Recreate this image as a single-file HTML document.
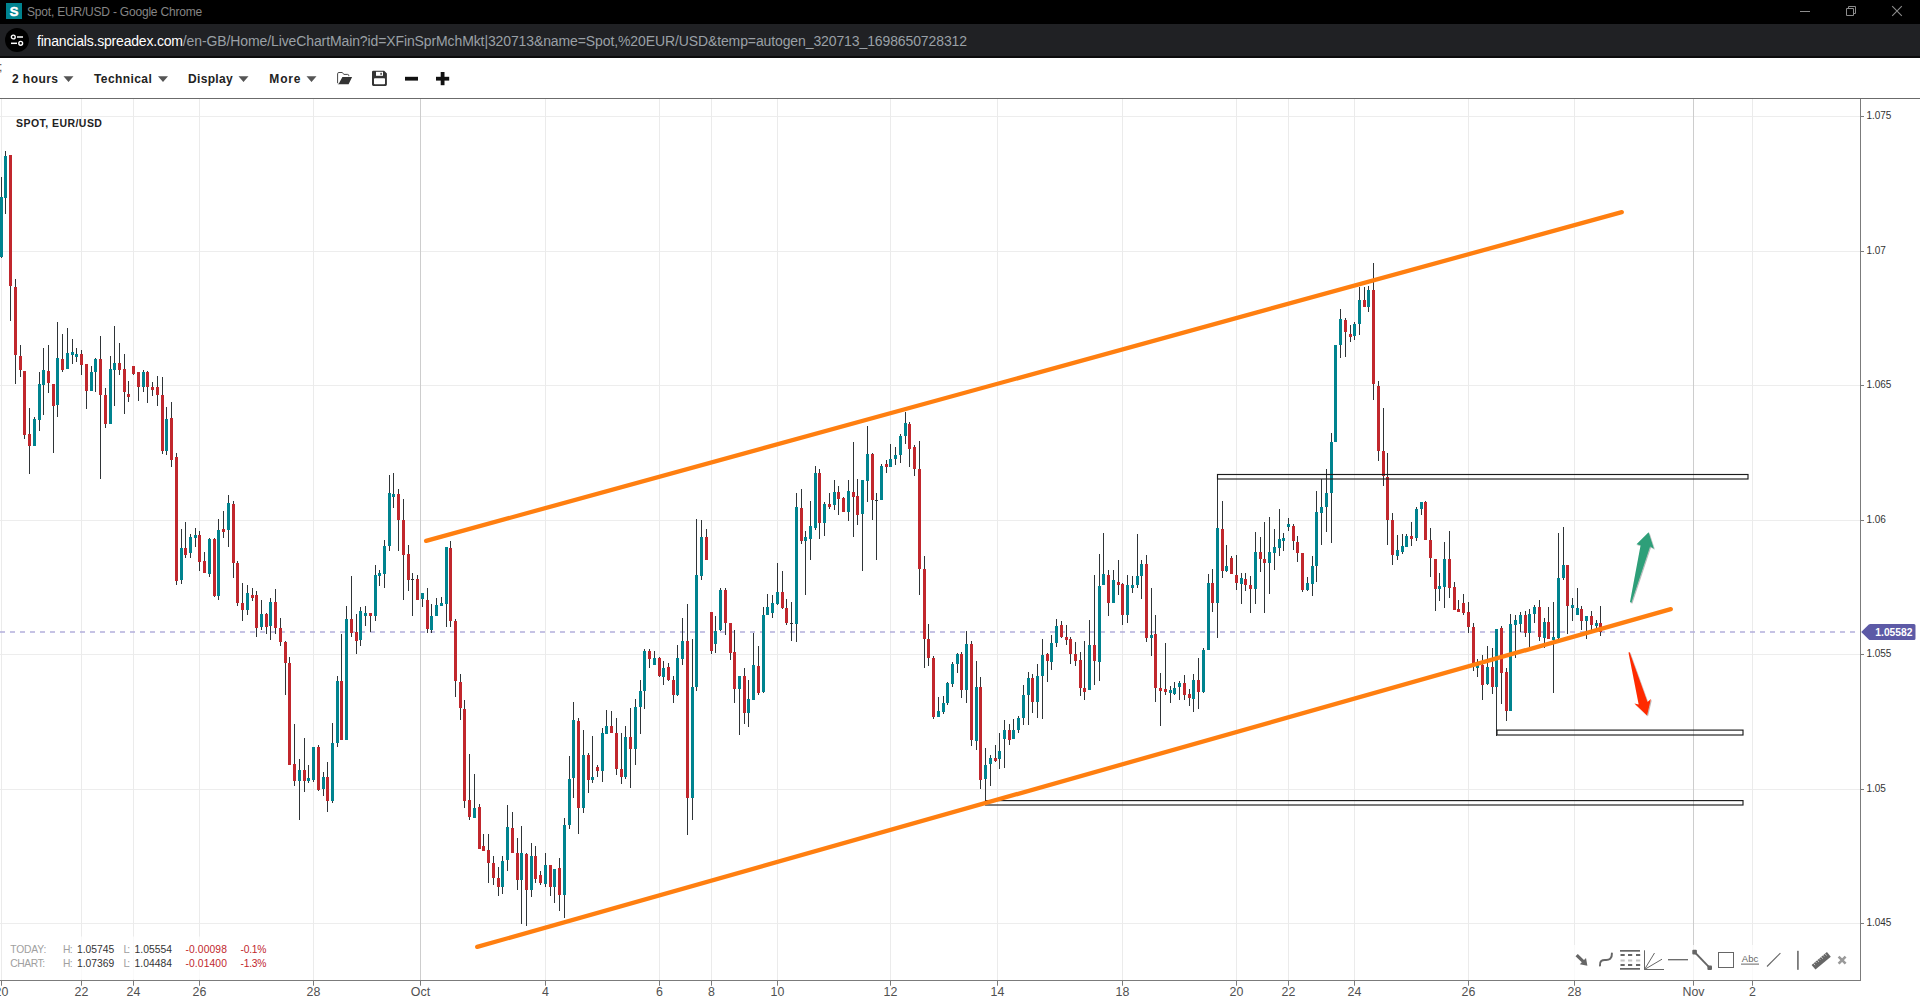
<!DOCTYPE html>
<html lang="en"><head><meta charset="utf-8"><title>Spot, EUR/USD</title>
<style>
html,body{margin:0;padding:0;}
body{width:1920px;height:1003px;overflow:hidden;background:#fff;position:relative;font-family:"Liberation Sans",sans-serif;}
.titlebar{position:absolute;left:0;top:0;width:1920px;height:24px;background:#000;}
.fav{position:absolute;left:6px;top:3px;width:16px;height:16px;background:#00838f;color:#fff;font-weight:bold;font-size:13px;line-height:17.6px;height:16px;overflow:hidden;text-align:center;-webkit-text-stroke:0.55px #fff;}
.ttl{position:absolute;left:27px;top:4.6px;font-size:12px;line-height:15px;color:#858585;white-space:nowrap;letter-spacing:-0.2px;}
.wc{position:absolute;top:0;left:0;}
.urlbar{position:absolute;left:0;top:24px;width:1920px;height:34px;background:#202124;box-sizing:border-box;border-bottom:2px solid #0b0b0c;}
.circ{position:absolute;left:5px;top:4px;width:24px;height:24px;border-radius:12px;background:#000;}
.url{position:absolute;left:37px;top:7.7px;font-size:14px;line-height:18px;color:#9aa0a6;white-space:nowrap;letter-spacing:-0.11px;}
.url b{font-weight:normal;color:#fff;letter-spacing:-0.19px;}
.tb{position:absolute;left:0;top:58px;width:1920px;height:40px;background:#fff;border-bottom:1px solid #6b6b6b;}
.tb span{position:absolute;top:13.5px;font-size:12px;line-height:15px;font-weight:bold;color:#222;white-space:nowrap;letter-spacing:0.55px;}
.chart{position:absolute;left:0;top:0;}
</style></head><body>
<div class="titlebar"><div class="fav">S</div><div class="ttl">Spot, EUR/USD - Google Chrome</div>
<svg class="wc" width="1920" height="24"><path d="M1800 11.5H1810" stroke="#8c8c8c" stroke-width="1"/><path d="M1846.5 8.5h7v7h-7z M1848.5 8.5v-2h7v7h-2" fill="none" stroke="#8c8c8c" stroke-width="1"/><path d="M1892.2 6.2l9.6 9.6M1901.8 6.2l-9.6 9.6" stroke="#8c8c8c" stroke-width="1.1"/></svg>
</div>
<div class="urlbar"><div class="circ"><svg width="24" height="24" viewBox="0 0 24 24"><circle cx="8.3" cy="9" r="1.9" fill="none" stroke="#fff" stroke-width="1.4"/><path d="M12 9H18" stroke="#fff" stroke-width="1.5"/><circle cx="15.7" cy="15.3" r="1.9" fill="none" stroke="#fff" stroke-width="1.4"/><path d="M6 15.3H12" stroke="#fff" stroke-width="1.5"/></svg></div>
<div class="url"><b>financials.spreadex.com</b>/en-GB/Home/LiveChartMain?id=XFinSprMchMkt|320713&amp;name=Spot,%20EUR/USD&amp;temp=autogen_320713_1698650728312</div></div>
<div class="tb">
<span style="left:-0.9px;top:2.2px;font-weight:normal;color:#444">;</span><span style="left:12px;letter-spacing:0.43px">2 hours</span><span style="left:94px;letter-spacing:0.41px">Technical</span><span style="left:188px;letter-spacing:0.34px">Display</span><span style="left:269.3px;letter-spacing:0.85px">More</span>
<svg style="position:absolute;left:0;top:0" width="480" height="40">
<path d="M63.5 18.3h10l-5 5.6zM158 18.3h10l-5 5.6zM238.5 18.3h10l-5 5.6zM306.5 18.3h10l-5 5.6z" fill="#555"/>
<path d="M337.6 25.2V15.8a1.3 1.3 0 0 1 1.3-1.3h3.2l1.9 1.9h3.5a1.3 1.3 0 0 1 1.3 1.3v0.5" fill="none" stroke="#3c3c3c" stroke-width="0.95"/><path d="M342.4 19.1h9.7l-3.5 7.1h-10.9l1.3-1z" fill="#333"/>
<path d="M373.3 12.7h10.9l2.7 2.7v11.2a1.3 1.3 0 0 1-1.3 1.3h-12.3a1.3 1.3 0 0 1-1.3-1.3v-12.6a1.3 1.3 0 0 1 1.3-1.3z" fill="#333"/><rect x="376" y="13.8" width="7" height="4" fill="#fff"/><rect x="380.4" y="14.8" width="1.4" height="2" fill="#333"/><rect x="374" y="20.2" width="11" height="6" rx="0.8" fill="#fff"/>
<rect x="405" y="18.8" width="13" height="3.8" fill="#111"/>
<rect x="436" y="18.8" width="13.2" height="3.8" fill="#111"/><rect x="440.7" y="14" width="3.8" height="13.2" fill="#111"/>
</svg></div>
<svg class="chart" width="1920" height="1003" viewBox="0 0 1920 1003"><g><rect x="0" y="116" width="1860" height="1" fill="#ededed"/><rect x="0" y="251" width="1860" height="1" fill="#ededed"/><rect x="0" y="385" width="1860" height="1" fill="#ededed"/><rect x="0" y="520" width="1860" height="1" fill="#ededed"/><rect x="0" y="654" width="1860" height="1" fill="#ededed"/><rect x="0" y="789" width="1860" height="1" fill="#ededed"/><rect x="0" y="923" width="1860" height="1" fill="#ededed"/><rect x="1" y="99" width="1" height="881" fill="#ebebeb"/><rect x="81" y="99" width="1" height="881" fill="#ebebeb"/><rect x="133" y="99" width="1" height="881" fill="#ebebeb"/><rect x="199" y="99" width="1" height="881" fill="#ebebeb"/><rect x="313" y="99" width="1" height="881" fill="#ebebeb"/><rect x="420" y="99" width="1" height="881" fill="#cdcdcd"/><rect x="545" y="99" width="1" height="881" fill="#ebebeb"/><rect x="659" y="99" width="1" height="881" fill="#ebebeb"/><rect x="711" y="99" width="1" height="881" fill="#ebebeb"/><rect x="777" y="99" width="1" height="881" fill="#ebebeb"/><rect x="890" y="99" width="1" height="881" fill="#ebebeb"/><rect x="997" y="99" width="1" height="881" fill="#ebebeb"/><rect x="1122" y="99" width="1" height="881" fill="#ebebeb"/><rect x="1236" y="99" width="1" height="881" fill="#ebebeb"/><rect x="1288" y="99" width="1" height="881" fill="#ebebeb"/><rect x="1354" y="99" width="1" height="881" fill="#ebebeb"/><rect x="1468" y="99" width="1" height="881" fill="#ebebeb"/><rect x="1574" y="99" width="1" height="881" fill="#ebebeb"/><rect x="1693" y="99" width="1" height="881" fill="#cdcdcd"/><rect x="1752" y="99" width="1" height="881" fill="#ebebeb"/></g>
<line x1="0" y1="632" x2="1860" y2="632" stroke="#b3aedb" stroke-width="1.4" stroke-dasharray="5 5"/>
<path d="M1.5 177V258M5.5 151V214M10.5 155V321M15.5 279V384M20.5 345V377M24.5 371V439M29.5 408V474M34.5 417V446M39.5 372V431M43.5 348V415M48.5 345V393M53.5 384V453M57.5 322V417M62.5 334V372M67.5 328V369M72.5 339V364M76.5 348V362M81.5 350V375M86.5 364V409M91.5 366V391M95.5 358V392M100.5 336V479M105.5 388V428M110.5 356V424M114.5 326V406M119.5 343V375M124.5 354V414M128.5 381V402M133.5 366V375M138.5 372V401M143.5 370V392M147.5 371V403M152.5 382V396M157.5 376V406M162.5 377V454M166.5 407V455M171.5 402V467M176.5 453V585M181.5 529V584M185.5 522V558M190.5 534V558M195.5 528V547M199.5 531V571M204.5 552V573M209.5 538V577M214.5 538V597M218.5 519V600M223.5 511V538M228.5 495V547M233.5 501V578M237.5 561V606M242.5 583V621M247.5 585V615M252.5 588V601M256.5 591V637M261.5 600V630M266.5 613V634M270.5 598V640M275.5 589V634M280.5 618V646M285.5 641V695M289.5 657V765M294.5 724V786M299.5 759V820M304.5 738V792M308.5 765V783M313.5 747V782M318.5 745V791M323.5 772V796M327.5 762V812M332.5 723V803M337.5 676V747M341.5 634V740M346.5 606V740M351.5 576V637M356.5 614V654M360.5 607V646M365.5 606V626M370.5 613V632M375.5 565V621M379.5 570V586M384.5 540V588M389.5 475V551M393.5 473V508M398.5 489V551M403.5 499V600M408.5 545V591M412.5 573V616M417.5 575V600M422.5 593V607M427.5 588V633M431.5 604V633M436.5 598V616M441.5 597V606M446.5 547V627M450.5 541V627M455.5 619V697M460.5 674V720M464.5 700V808M469.5 754V820M474.5 774V818M479.5 804V849M483.5 834V851M488.5 834V883M493.5 856V885M498.5 867V896M502.5 856V894M507.5 805V871M512.5 812V853M517.5 838V890M521.5 826V924M526.5 853V926M531.5 843V897M535.5 846V883M540.5 871V885M545.5 853V887M550.5 865V896M554.5 869V903M559.5 858V911M564.5 818V918M569.5 756V829M573.5 702V798M578.5 718V834M583.5 730V813M588.5 753V793M592.5 736V783M597.5 765V777M602.5 728V782M606.5 710V734M611.5 711V733M616.5 718V775M621.5 733V784M625.5 726V779M630.5 708V788M635.5 699V765M640.5 680V734M644.5 649V709M649.5 649V668M654.5 651V665M659.5 657V677M663.5 661V685M668.5 663V681M673.5 676V703M677.5 645V696M682.5 618V665M687.5 604V835M692.5 639V820M696.5 519V691M701.5 520V580M706.5 529V560M711.5 612V654M715.5 616V653M720.5 588V631M725.5 588V635M730.5 623V660M734.5 630V703M739.5 676V735M744.5 668V724M748.5 680V727M753.5 633V700M758.5 646V695M763.5 607V693M767.5 594V615M772.5 595V618M777.5 563V605M782.5 571V609M786.5 599V625M791.5 602V641M796.5 493V642M801.5 489V544M805.5 531V595M810.5 501V560M815.5 466V530M819.5 469V539M824.5 502V536M829.5 493V509M834.5 480V510M838.5 486V515M843.5 497V512M848.5 480V521M853.5 442V537M857.5 479V525M862.5 480V571M867.5 426V502M872.5 453V520M876.5 493V560M881.5 464V500M886.5 460V473M890.5 444V467M895.5 447V465M900.5 434V463M905.5 412V444M909.5 422V467M914.5 445V476M919.5 441V595M924.5 556V668M928.5 624V666M933.5 656V719M938.5 697V717M943.5 696V714M947.5 682V705M952.5 662V687M957.5 653V673M961.5 652V698M966.5 631V703M971.5 641V746M976.5 661V750M980.5 677V789M985.5 748V801M990.5 755V786M995.5 745V762M999.5 733V769M1004.5 720V768M1009.5 724V745M1013.5 719V739M1018.5 716V733M1023.5 685V725M1028.5 672V725M1032.5 674V713M1037.5 664V718M1042.5 639V719M1047.5 653V682M1051.5 635V670M1056.5 619V647M1061.5 621V638M1066.5 625V645M1070.5 637V664M1075.5 642V666M1080.5 652V696M1084.5 641V700M1089.5 620V690M1094.5 575V685M1099.5 554V681M1103.5 533V585M1108.5 570V616M1113.5 570V603M1118.5 560V595M1122.5 583V625M1127.5 575V623M1132.5 576V593M1137.5 534V588M1141.5 560V599M1146.5 555V642M1151.5 588V656M1155.5 615V702M1160.5 673V726M1165.5 643V695M1170.5 686V703M1174.5 682V695M1179.5 681V700M1184.5 675V700M1189.5 689V706M1193.5 674V712M1198.5 658V709M1203.5 648V693M1208.5 574V650M1212.5 569V612M1217.5 476V638M1222.5 501V578M1226.5 545V572M1231.5 556V574M1236.5 555V590M1241.5 573V604M1245.5 573V591M1250.5 576V613M1255.5 532V604M1260.5 537V572M1264.5 522V613M1269.5 517V594M1274.5 529V570M1279.5 509V556M1283.5 533V551M1288.5 518V531M1293.5 524V550M1297.5 536V562M1302.5 553V592M1307.5 577V591M1312.5 556V596M1316.5 491V582M1321.5 479V545M1326.5 469V532M1331.5 433V543M1335.5 345V442M1340.5 309V358M1345.5 318V357M1350.5 325V342M1354.5 322V340M1359.5 287V335M1364.5 287V307M1368.5 286V312M1373.5 263V400M1378.5 381V461M1383.5 408V486M1387.5 453V545M1392.5 513V565M1397.5 535V560M1402.5 534V554M1406.5 534V547M1411.5 522V546M1416.5 507V541M1421.5 502V515M1425.5 501V540M1430.5 528V577M1435.5 559V611M1439.5 573V601M1444.5 542V608M1449.5 531V598M1454.5 582V610M1458.5 600V612M1463.5 594V615M1468.5 602V633M1473.5 623V671M1477.5 659V677M1482.5 655V700M1487.5 646V685M1492.5 648V694M1496.5 629V736M1501.5 626V704M1506.5 668V721M1510.5 614V711M1515.5 615V658M1520.5 612V632M1525.5 611V637M1529.5 609V647M1534.5 605V623M1539.5 600V641M1544.5 618V648M1548.5 607V639M1553.5 602V693M1558.5 533V640M1563.5 527V580M1567.5 565V634M1572.5 598V621M1577.5 588V615M1581.5 606V630M1586.5 616V639M1591.5 611V630M1596.5 620V628M1600.5 606V636" stroke="#2f3437" stroke-width="1" fill="none"/>
<path d="M411 579.5H414M790 623.5H793M875 500.5H878" stroke="#2f3437" stroke-width="1" fill="none"/>
<path d="M0 197h3v60h-3zM4 156h3v42h-3zM33 419h3v27h-3zM38 384h3v36h-3zM42 370h3v15h-3zM56 358h3v47h-3zM66 353h3v16h-3zM71 352h3v3h-3zM75 354h3v3h-3zM90 372h3v19h-3zM94 359h3v13h-3zM109 369h3v55h-3zM113 363h3v7h-3zM142 372h3v15h-3zM165 419h3v32h-3zM180 548h3v32h-3zM189 537h3v16h-3zM194 535h3v3h-3zM208 539h3v35h-3zM217 530h3v66h-3zM227 503h3v27h-3zM246 593h3v17h-3zM260 614h3v13h-3zM269 602h3v24h-3zM298 770h3v11h-3zM307 778h3v3h-3zM312 747h3v33h-3zM322 777h3v12h-3zM331 743h3v58h-3zM336 681h3v62h-3zM345 619h3v121h-3zM359 611h3v29h-3zM364 613h3v3h-3zM374 575h3v41h-3zM378 573h3v3h-3zM383 546h3v28h-3zM388 493h3v53h-3zM392 494h3v3h-3zM421 593h3v6h-3zM430 616h3v14h-3zM435 605h3v11h-3zM440 603h3v3h-3zM445 547h3v57h-3zM473 808h3v10h-3zM501 861h3v26h-3zM506 827h3v33h-3zM520 853h3v27h-3zM530 856h3v34h-3zM544 865h3v19h-3zM553 869h3v18h-3zM563 825h3v70h-3zM568 779h3v46h-3zM572 720h3v58h-3zM582 755h3v53h-3zM591 777h3v3h-3zM601 733h3v38h-3zM605 726h3v8h-3zM624 737h3v40h-3zM634 707h3v42h-3zM639 691h3v16h-3zM643 651h3v40h-3zM653 658h3v7h-3zM662 668h3v9h-3zM676 658h3v37h-3zM681 641h3v18h-3zM691 687h3v111h-3zM695 575h3v112h-3zM700 537h3v39h-3zM714 631h3v13h-3zM719 590h3v40h-3zM738 676h3v13h-3zM747 699h3v14h-3zM752 665h3v35h-3zM762 615h3v77h-3zM766 607h3v8h-3zM771 603h3v10h-3zM776 592h3v12h-3zM795 507h3v117h-3zM804 537h3v4h-3zM809 526h3v13h-3zM814 473h3v55h-3zM823 504h3v19h-3zM833 492h3v13h-3zM847 491h3v21h-3zM861 480h3v34h-3zM866 454h3v27h-3zM880 466h3v34h-3zM889 459h3v8h-3zM894 455h3v4h-3zM899 436h3v19h-3zM904 423h3v13h-3zM937 711h3v6h-3zM942 703h3v9h-3zM946 683h3v20h-3zM951 664h3v20h-3zM956 654h3v10h-3zM965 644h3v46h-3zM975 687h3v54h-3zM984 765h3v14h-3zM989 758h3v6h-3zM998 751h3v8h-3zM1003 730h3v9h-3zM1012 730h3v9h-3zM1017 718h3v12h-3zM1022 695h3v23h-3zM1027 678h3v17h-3zM1036 676h3v26h-3zM1041 655h3v21h-3zM1050 643h3v19h-3zM1055 626h3v17h-3zM1088 645h3v45h-3zM1098 586h3v76h-3zM1102 574h3v11h-3zM1112 580h3v23h-3zM1126 585h3v30h-3zM1131 585h3v3h-3zM1136 576h3v9h-3zM1140 564h3v12h-3zM1150 635h3v3h-3zM1169 690h3v3h-3zM1173 688h3v6h-3zM1178 683h3v4h-3zM1192 680h3v19h-3zM1202 650h3v42h-3zM1207 583h3v67h-3zM1216 528h3v75h-3zM1225 566h3v5h-3zM1240 578h3v6h-3zM1254 552h3v37h-3zM1268 552h3v11h-3zM1273 547h3v6h-3zM1278 539h3v9h-3zM1282 538h3v3h-3zM1287 524h3v3h-3zM1306 583h3v7h-3zM1311 566h3v18h-3zM1315 512h3v54h-3zM1320 507h3v6h-3zM1325 493h3v14h-3zM1330 442h3v51h-3zM1334 345h3v97h-3zM1339 319h3v26h-3zM1353 324h3v12h-3zM1358 300h3v24h-3zM1367 290h3v17h-3zM1396 550h3v6h-3zM1401 546h3v6h-3zM1405 536h3v11h-3zM1415 509h3v29h-3zM1420 502h3v7h-3zM1438 586h3v3h-3zM1443 559h3v28h-3zM1476 665h3v3h-3zM1486 667h3v17h-3zM1495 629h3v58h-3zM1509 624h3v87h-3zM1514 620h3v5h-3zM1519 615h3v9h-3zM1528 614h3v19h-3zM1533 607h3v7h-3zM1543 622h3v16h-3zM1552 637h3v3h-3zM1557 578h3v60h-3zM1562 565h3v13h-3zM1571 605h3v3h-3zM1576 608h3v7h-3zM1585 616h3v5h-3zM1595 623h3v3h-3z" fill="#00838f"/>
<path d="M9 155h3v131h-3zM14 287h3v68h-3zM19 356h3v14h-3zM23 371h3v64h-3zM28 434h3v12h-3zM47 371h3v12h-3zM52 384h3v22h-3zM61 359h3v11h-3zM80 354h3v11h-3zM85 364h3v27h-3zM99 359h3v36h-3zM104 395h3v29h-3zM118 363h3v7h-3zM123 369h3v23h-3zM127 394h3v3h-3zM132 366h3v8h-3zM137 372h3v15h-3zM146 372h3v15h-3zM151 387h3v3h-3zM156 387h3v8h-3zM161 395h3v56h-3zM170 418h3v42h-3zM175 457h3v124h-3zM184 548h3v7h-3zM198 535h3v27h-3zM203 561h3v12h-3zM213 539h3v57h-3zM222 529h3v3h-3zM232 504h3v59h-3zM236 563h3v40h-3zM241 603h3v7h-3zM251 595h3v3h-3zM255 595h3v33h-3zM265 614h3v13h-3zM274 602h3v26h-3zM279 628h3v14h-3zM284 642h3v21h-3zM288 663h3v102h-3zM293 764h3v17h-3zM303 770h3v11h-3zM317 747h3v43h-3zM326 777h3v24h-3zM340 681h3v59h-3zM350 619h3v14h-3zM355 632h3v9h-3zM369 613h3v3h-3zM397 494h3v26h-3zM402 520h3v35h-3zM407 554h3v26h-3zM416 579h3v21h-3zM426 600h3v29h-3zM449 548h3v73h-3zM454 621h3v60h-3zM459 682h3v26h-3zM463 709h3v92h-3zM468 800h3v17h-3zM478 807h3v42h-3zM482 846h3v5h-3zM487 850h3v13h-3zM492 863h3v15h-3zM497 878h3v9h-3zM511 828h3v25h-3zM516 853h3v27h-3zM525 854h3v36h-3zM534 856h3v23h-3zM539 875h3v8h-3zM549 865h3v22h-3zM558 868h3v27h-3zM577 721h3v87h-3zM587 755h3v25h-3zM596 767h3v4h-3zM610 726h3v7h-3zM615 733h3v36h-3zM620 769h3v8h-3zM629 737h3v12h-3zM648 651h3v8h-3zM658 658h3v18h-3zM667 667h3v13h-3zM672 680h3v15h-3zM686 641h3v157h-3zM705 537h3v23h-3zM710 612h3v39h-3zM724 590h3v33h-3zM729 623h3v30h-3zM733 652h3v37h-3zM743 676h3v37h-3zM757 666h3v27h-3zM781 592h3v16h-3zM785 608h3v15h-3zM800 508h3v33h-3zM818 473h3v50h-3zM828 504h3v3h-3zM837 492h3v7h-3zM842 498h3v14h-3zM852 492h3v5h-3zM856 496h3v19h-3zM871 454h3v46h-3zM885 464h3v3h-3zM908 424h3v25h-3zM913 447h3v22h-3zM918 469h3v100h-3zM923 569h3v70h-3zM927 639h3v19h-3zM932 658h3v59h-3zM960 654h3v36h-3zM970 644h3v96h-3zM979 687h3v93h-3zM994 758h3v3h-3zM1008 730h3v10h-3zM1031 678h3v24h-3zM1046 654h3v7h-3zM1060 625h3v12h-3zM1065 637h3v3h-3zM1069 639h3v15h-3zM1074 654h3v7h-3zM1079 660h3v28h-3zM1083 688h3v4h-3zM1093 645h3v16h-3zM1107 575h3v28h-3zM1117 582h3v3h-3zM1121 584h3v31h-3zM1145 564h3v74h-3zM1154 634h3v54h-3zM1159 688h3v3h-3zM1164 689h3v3h-3zM1183 683h3v12h-3zM1188 694h3v4h-3zM1197 680h3v12h-3zM1211 583h3v20h-3zM1221 529h3v42h-3zM1230 558h3v16h-3zM1235 575h3v8h-3zM1244 579h3v6h-3zM1249 585h3v4h-3zM1259 552h3v7h-3zM1263 559h3v4h-3zM1292 526h3v15h-3zM1296 542h3v11h-3zM1301 553h3v37h-3zM1344 320h3v12h-3zM1349 334h3v3h-3zM1363 300h3v7h-3zM1372 290h3v94h-3zM1377 386h3v65h-3zM1382 451h3v25h-3zM1386 477h3v43h-3zM1391 520h3v35h-3zM1410 536h3v3h-3zM1424 502h3v38h-3zM1429 540h3v18h-3zM1434 559h3v30h-3zM1448 559h3v29h-3zM1453 587h3v23h-3zM1457 609h3v3h-3zM1462 603h3v10h-3zM1467 612h3v15h-3zM1472 627h3v36h-3zM1481 665h3v20h-3zM1491 667h3v20h-3zM1500 628h3v45h-3zM1505 672h3v39h-3zM1524 615h3v18h-3zM1538 607h3v30h-3zM1547 622h3v17h-3zM1566 565h3v41h-3zM1580 609h3v12h-3zM1590 616h3v9h-3zM1599 623h3v9h-3z" fill="#c1272d"/>
<rect x="1217.5" y="474.5" width="530.5" height="4.5" fill="none" stroke="#1c1c1c" stroke-width="1.15"/>
<rect x="1497" y="730.1" width="246" height="4.899999999999977" fill="none" stroke="#1c1c1c" stroke-width="1.15"/>
<rect x="985.5" y="800.6" width="757.5" height="4.399999999999977" fill="none" stroke="#1c1c1c" stroke-width="1.15"/>
<line x1="426.1" y1="540.9" x2="1621.8" y2="212.1" stroke="#ff7f10" stroke-width="4.3" stroke-linecap="round"/>
<line x1="477.2" y1="946.9" x2="1670.8" y2="609.1" stroke="#ff7f10" stroke-width="4.3" stroke-linecap="round"/>
<defs><filter id="sh" x="-30%" y="-30%" width="160%" height="160%"><feDropShadow dx="0.8" dy="0.8" stdDeviation="0.7" flood-color="#000" flood-opacity="0.35"/></filter></defs>
<polygon filter="url(#sh)" fill="#2e9f79" points="1630,602 1631.4,602.8 1650.1,546.6 1653.9,548.7 1648.6,532.2 1636.5,544.3 1640.6,545.3"/>
<polygon filter="url(#sh)" fill="#ff2b06" points="1628.5,652.5 1629.5,652 1647.5,702 1650.9,699.1 1647,715.6 1634.4,703.6 1638.7,704.4"/>
<rect x="0" y="980" width="1861" height="1" fill="#7b7b7b"/>
<rect x="1860" y="99" width="1" height="882" fill="#7b7b7b"/>
<g font-family="'Liberation Sans', sans-serif" font-size="12.4" fill="#505050"><rect x="1" y="981" width="1" height="4.7" fill="#7b7b7b"/><text x="1.5" y="996" text-anchor="middle">20</text><rect x="81" y="981" width="1" height="4.7" fill="#7b7b7b"/><text x="81.5" y="996" text-anchor="middle">22</text><rect x="133" y="981" width="1" height="4.7" fill="#7b7b7b"/><text x="133.5" y="996" text-anchor="middle">24</text><rect x="199" y="981" width="1" height="4.7" fill="#7b7b7b"/><text x="199.5" y="996" text-anchor="middle">26</text><rect x="313" y="981" width="1" height="4.7" fill="#7b7b7b"/><text x="313.5" y="996" text-anchor="middle">28</text><rect x="420" y="981" width="1" height="4.7" fill="#7b7b7b"/><text x="420.5" y="996" text-anchor="middle">Oct</text><rect x="545" y="981" width="1" height="4.7" fill="#7b7b7b"/><text x="545.5" y="996" text-anchor="middle">4</text><rect x="659" y="981" width="1" height="4.7" fill="#7b7b7b"/><text x="659.5" y="996" text-anchor="middle">6</text><rect x="711" y="981" width="1" height="4.7" fill="#7b7b7b"/><text x="711.5" y="996" text-anchor="middle">8</text><rect x="777" y="981" width="1" height="4.7" fill="#7b7b7b"/><text x="777.5" y="996" text-anchor="middle">10</text><rect x="890" y="981" width="1" height="4.7" fill="#7b7b7b"/><text x="890.5" y="996" text-anchor="middle">12</text><rect x="997" y="981" width="1" height="4.7" fill="#7b7b7b"/><text x="997.5" y="996" text-anchor="middle">14</text><rect x="1122" y="981" width="1" height="4.7" fill="#7b7b7b"/><text x="1122.5" y="996" text-anchor="middle">18</text><rect x="1236" y="981" width="1" height="4.7" fill="#7b7b7b"/><text x="1236.5" y="996" text-anchor="middle">20</text><rect x="1288" y="981" width="1" height="4.7" fill="#7b7b7b"/><text x="1288.5" y="996" text-anchor="middle">22</text><rect x="1354" y="981" width="1" height="4.7" fill="#7b7b7b"/><text x="1354.5" y="996" text-anchor="middle">24</text><rect x="1468" y="981" width="1" height="4.7" fill="#7b7b7b"/><text x="1468.5" y="996" text-anchor="middle">26</text><rect x="1574" y="981" width="1" height="4.7" fill="#7b7b7b"/><text x="1574.5" y="996" text-anchor="middle">28</text><rect x="1693" y="981" width="1" height="4.7" fill="#7b7b7b"/><text x="1693.5" y="996" text-anchor="middle">Nov</text><rect x="1752" y="981" width="1" height="4.7" fill="#7b7b7b"/><text x="1752.5" y="996" text-anchor="middle">2</text></g>
<g font-family="'Liberation Sans', sans-serif" font-size="10" fill="#333"><rect x="1861" y="116" width="3" height="1" fill="#7b7b7b"/><text x="1866.4" y="119.1">1.075</text><rect x="1861" y="251" width="3" height="1" fill="#7b7b7b"/><text x="1866.4" y="254.1">1.07</text><rect x="1861" y="385" width="3" height="1" fill="#7b7b7b"/><text x="1866.4" y="388.1">1.065</text><rect x="1861" y="520" width="3" height="1" fill="#7b7b7b"/><text x="1866.4" y="523.1">1.06</text><rect x="1861" y="654" width="3" height="1" fill="#7b7b7b"/><text x="1866.4" y="657.1">1.055</text><rect x="1861" y="789" width="3" height="1" fill="#7b7b7b"/><text x="1866.4" y="792.1">1.05</text><rect x="1861" y="923" width="3" height="1" fill="#7b7b7b"/><text x="1866.4" y="926.1">1.045</text></g>
<path d="M1861.2 632l7.6-7.4q0.7-0.6 1.5-0.6h43.7a1.5 1.5 0 0 1 1.5 1.5v13a1.5 1.5 0 0 1-1.5 1.5h-43.7q-0.8 0-1.5-0.6z" fill="#5d5aa6"/>
<text x="1875.3" y="636.2" font-family="'Liberation Sans', sans-serif" font-size="10.3" font-weight="bold" fill="#fff">1.05582</text>
<rect x="1568" y="945" width="292" height="35" fill="#fff" fill-opacity="0.72"/><g><path d="M1575.5 956.2l2.3-2.3 6.2 6.2 2-2 1.4 7.6-7.6-1.4 2-2z" fill="#666"/><path d="M1600 965.5c-0.6-4.2 2-5.8 5.5-5.6 3.8 0.2 6.6-1.2 6.4-6.4" fill="none" stroke="#666" stroke-width="2" stroke-linecap="round"/><rect x="1620" y="950" width="20" height="1.7" fill="#666"/><rect x="1620" y="968" width="20" height="1.7" fill="#666"/><rect x="1620.5" y="954" width="4.2" height="2" fill="#666"/><rect x="1628" y="954" width="4.2" height="2" fill="#666"/><rect x="1636" y="954" width="4.2" height="2" fill="#666"/><rect x="1620.5" y="959.5" width="4.2" height="2" fill="#c4c4c4"/><rect x="1628" y="959.5" width="4.2" height="2" fill="#c4c4c4"/><rect x="1636" y="959.5" width="4.2" height="2" fill="#c4c4c4"/><rect x="1620.5" y="964" width="4.2" height="2" fill="#666"/><rect x="1628" y="964" width="4.2" height="2" fill="#666"/><rect x="1636" y="964" width="4.2" height="2" fill="#666"/><path d="M1644.5 950.3V969.5H1664M1644.5 969.5L1654.5 953M1644.5 969.5L1662 959.2" fill="none" stroke="#666" stroke-width="1"/><path d="M1668 959.7H1688" stroke="#666" stroke-width="1.3"/><path d="M1694.5 952L1709.8 967.8" stroke="#666" stroke-width="1.8"/><rect x="1692.3" y="949.8" width="4.6" height="4.6" rx="1" fill="#666"/><rect x="1707.4" y="965.4" width="4.6" height="4.6" rx="1" fill="#666"/><rect x="1718.5" y="952.5" width="15" height="15" fill="none" stroke="#666" stroke-width="1"/><text x="1750" y="962" text-anchor="middle" font-family="'Liberation Sans', sans-serif" font-size="9.5" fill="#666">Abc</text><rect x="1741" y="963.6" width="18" height="1" fill="#666"/><path d="M1767 966.5L1780.4 953.2" stroke="#666" stroke-width="1.1"/><rect x="1797" y="950.8" width="1.8" height="19" fill="#7a7a7a"/><g transform="translate(1821.2 960.8) rotate(-40)"><rect x="-10" y="-3" width="20" height="6" fill="#666"/><path d="M-7.5 -3v2.4M-5 -3v1.6M-2.5 -3v2.4M0 -3v1.6M2.5 -3v2.4M5 -3v1.6M7.5 -3v2.4" stroke="#fff" stroke-width="0.6"/></g><path d="M1838.6 956.7L1845.6 963.7M1845.6 956.7L1838.6 963.7" stroke="#9a9a9a" stroke-width="2.6"/></g>
<text x="16" y="127" font-family="'Liberation Sans', sans-serif" font-size="10.5" font-weight="bold" fill="#222" letter-spacing="0.45">SPOT, EUR/USD</text>
<rect x="4" y="936.5" width="272" height="43" fill="#fff" fill-opacity="0.75"/><g font-family="'Liberation Sans', sans-serif" font-size="10.3"><text x="10.2" y="953.1" fill="#a0a0a0" textLength="36.2" lengthAdjust="spacing">TODAY:</text><text x="63" y="953.1" fill="#a0a0a0" textLength="9.5" lengthAdjust="spacing">H:</text><text x="76.9" y="953.1" fill="#333" textLength="37.3" lengthAdjust="spacing">1.05745</text><text x="123.5" y="953.1" fill="#a0a0a0" textLength="6.7" lengthAdjust="spacing">L:</text><text x="134.5" y="953.1" fill="#333" textLength="37.6" lengthAdjust="spacing">1.05554</text><text x="185.5" y="953.1" fill="#c1272d" textLength="41.4" lengthAdjust="spacing">-0.00098</text><text x="240.6" y="953.1" fill="#c1272d" textLength="25.7" lengthAdjust="spacing">-0.1%</text><text x="10.2" y="966.9" fill="#a0a0a0" textLength="35" lengthAdjust="spacing">CHART:</text><text x="63" y="966.9" fill="#a0a0a0" textLength="9.5" lengthAdjust="spacing">H:</text><text x="76.9" y="966.9" fill="#333" textLength="37.3" lengthAdjust="spacing">1.07369</text><text x="123.5" y="966.9" fill="#a0a0a0" textLength="6.7" lengthAdjust="spacing">L:</text><text x="134.5" y="966.9" fill="#333" textLength="37.6" lengthAdjust="spacing">1.04484</text><text x="185.5" y="966.9" fill="#c1272d" textLength="41.4" lengthAdjust="spacing">-0.01400</text><text x="240.6" y="966.9" fill="#c1272d" textLength="25.7" lengthAdjust="spacing">-1.3%</text></g></svg>
</body></html>
